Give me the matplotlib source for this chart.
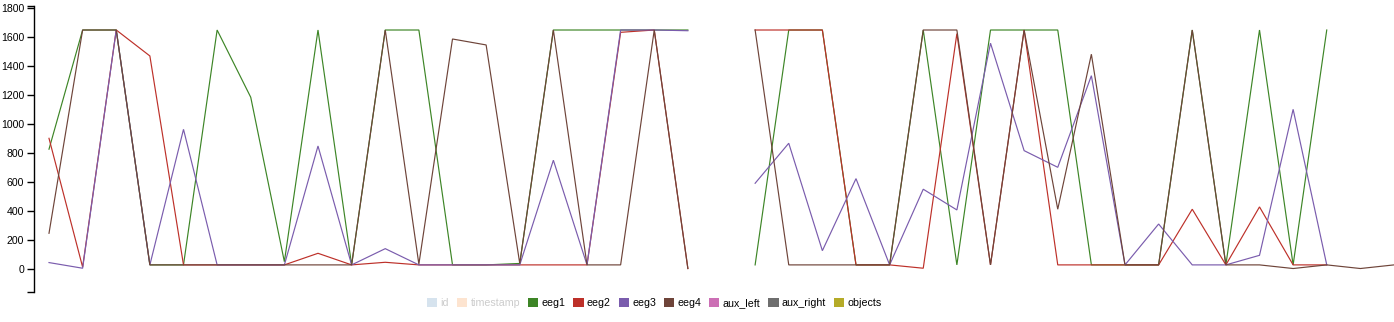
import numpy as np
import matplotlib
matplotlib.use("Agg")
import matplotlib.pyplot as plt
from matplotlib.patches import Patch

nan = np.nan

# sample index along the x axis (index 20 is a gap in every series)
idx = np.arange(41)

eeg1 = [828, 1650, 1650, 30, 30, 1650, 1186, 52, 1650, 30, 1650, 1650, 30, 30, 40,
        1650, 1650, 1650, 1650, 1650, nan, 30, 1650, 1650, 30, 30, 1650, 30, 1650, 1650,
        1650, 30, 30, 30, 1650, 30, 1650, 30, 1650, nan, nan]
eeg2 = [903, 15, 1650, 1471, 30, 30, 30, 30, 110, 30, 48, 30, 30, 30, 30,
        30, 30, 1634, 1650, 5, nan, 1650, 1650, 1650, 30, 30, 7, 1625, 30, 1650,
        30, 30, 30, 30, 414, 30, 430, 30, 30, nan, nan]
eeg3 = [46, 7, 1650, 30, 965, 30, 30, 30, 850, 30, 142, 30, 30, 30, 30,
        752, 30, 1650, 1650, 1645, nan, 593, 869, 128, 625, 30, 552, 409, 1559, 818,
        703, 1335, 30, 312, 30, 30, 96, 1103, 30, nan, nan]
eeg4 = [248, 1650, 1650, 30, 30, 30, 30, 30, 30, 30, 1650, 35, 1588, 1547, 40,
        1650, 30, 30, 1650, 5, nan, 1650, 30, 30, 30, 30, 1650, 1650, 30, 1650,
        414, 1483, 30, 30, 1650, 30, 30, 5, 30, 5, 30]

series = {"eeg1": eeg1, "eeg2": eeg2, "eeg3": eeg3, "eeg4": eeg4}

legend_names = ["id", "timestamp", "eeg1", "eeg2", "eeg3", "eeg4", "aux_left", "aux_right", "objects"]
legend_colors = ["#d6e3ee", "#fde4d0", "#3d8526", "#bd3029", "#7a5cad", "#6e4439",
                 "#cc6fb5", "#6e6e6e", "#b5ab28"]
disabled = ["id", "timestamp"]
line_colors = dict(zip(legend_names, legend_colors))

plt.rcParams["font.family"] = ["Liberation Sans", "DejaVu Sans"]

fig = plt.figure(figsize=(13.94, 3.22), dpi=100)
ax = fig.add_axes([34 / 1394, 1 - 292.3 / 322, 1360 / 1394, (292.3 - 5.5) / 322])

for name, vals in series.items():
    ax.plot(idx, vals, color=line_colors[name], lw=0.85, solid_joinstyle="miter")

ax.set_xlim(-0.446, 40.0)
ax.set_ylim(-159, 1819)
ax.set_yticks(np.arange(0, 1801, 200))
ax.set_yticks([-159, 1819], minor=True)
ax.tick_params(axis="y", which="both", length=5, width=1, labelsize=7.6, pad=2, color="black")
ax.set_xticks([])
for s in ["top", "right", "bottom"]:
    ax.spines[s].set_visible(False)
ax.spines["left"].set_linewidth(1)

handles = [Patch(facecolor=c, edgecolor="none") for c in legend_colors]
leg = fig.legend(handles, legend_names, loc="center", bbox_to_anchor=(654.5 / 1394, 19 / 322),
                 ncol=len(legend_names), frameon=False, fontsize=7.7, handlelength=0.95,
                 handleheight=0.95, handletextpad=0.3, columnspacing=0.75, borderpad=0)
for txt in leg.get_texts():
    if txt.get_text() in disabled:
        txt.set_color("#cccccc")

fig.savefig("out.png", dpi=100)
